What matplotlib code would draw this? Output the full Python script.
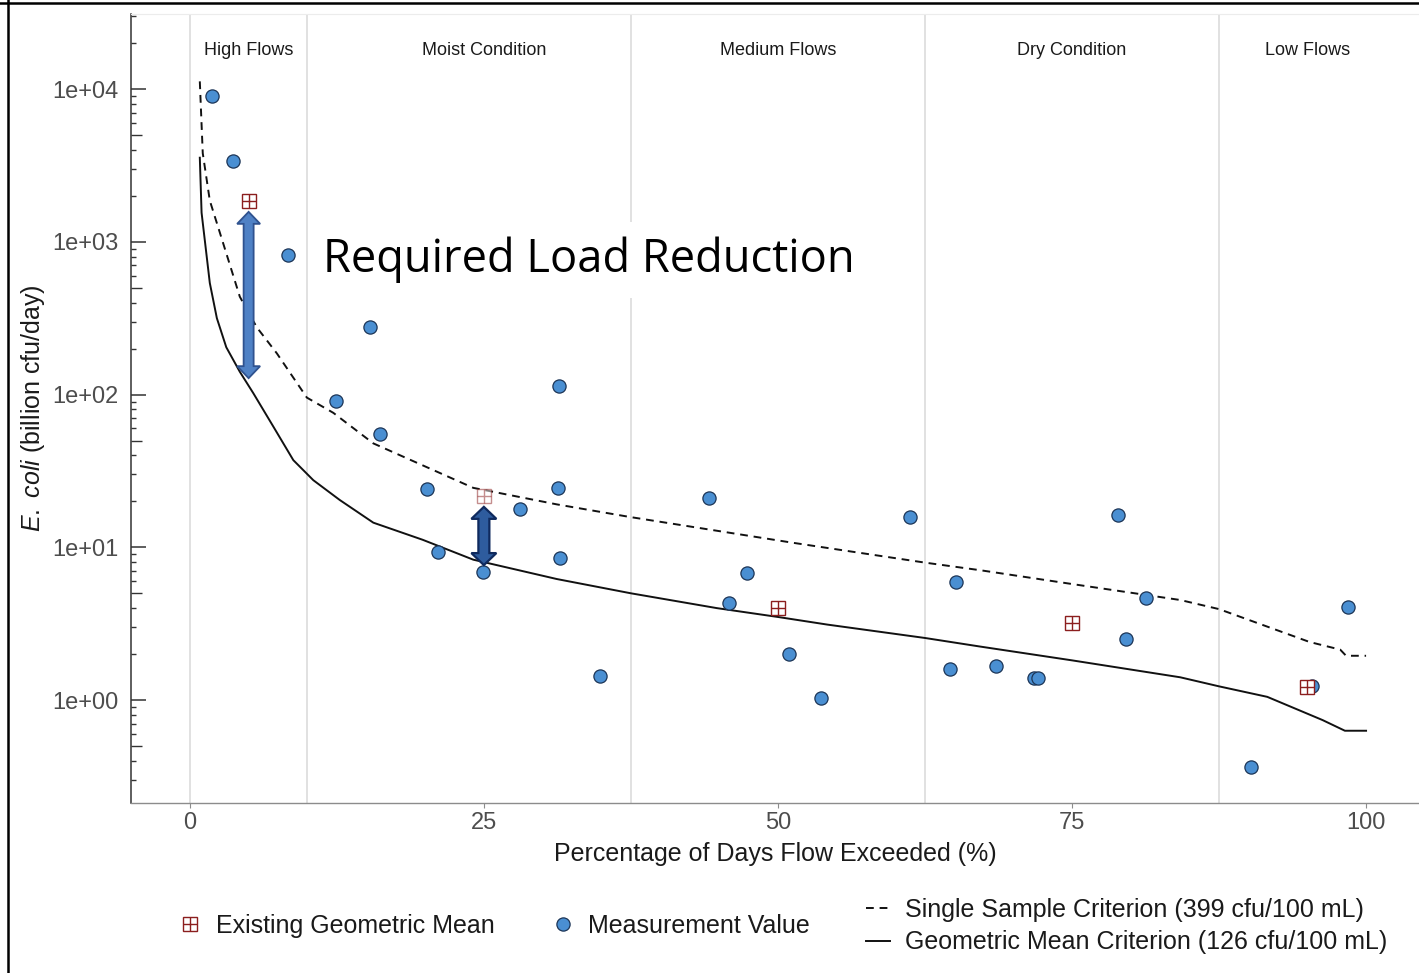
import matplotlib
matplotlib.use("Agg")
import matplotlib.pyplot as plt
import matplotlib.ticker as mticker
import matplotlib.transforms as mtransforms
from matplotlib.lines import Line2D
from matplotlib.patches import Polygon
from matplotlib.legend_handler import HandlerTuple
import numpy as np

plt.rcParams['font.family'] = ['Liberation Sans', 'DejaVu Sans']
plt.rcParams['mathtext.fontset'] = 'custom'
plt.rcParams['mathtext.it'] = 'Liberation Sans:italic'
plt.rcParams['mathtext.rm'] = 'Liberation Sans'

# geometric mean criterion curve (126 cfu/100 mL)
gm_pct = [0.85, 1.0, 1.7, 2.3, 3.1, 4.25, 5.4, 7.1, 8.8, 10.5, 12.75, 15.6, 19.8, 24.1,
          31.2, 37.5, 44.8, 50, 54.2, 62.5, 67.2, 75, 84.2, 87.5, 91.6, 96.3, 98.2, 100]
gm_load = [3550, 1550, 537, 316, 204, 141, 102, 61.7, 37.2, 27.5, 20.4, 14.5, 11.2, 8.3,
           6.2, 5.0, 4.0, 3.5, 3.12, 2.55, 2.24, 1.82, 1.41, 1.23, 1.05, 0.74, 0.63, 0.63]

# single sample criterion curve (399 cfu/100 mL)
ss_pct = [0.85, 1.1, 1.7, 2.55, 4.25, 5.7, 7.4, 9.95, 12.2, 15.6, 24.1, 31.2, 37.4,
          51.3, 62.5, 67.2, 75, 84.2, 87.5, 95.2, 97.8, 98.3, 100]
ss_load = [11220, 3800, 1860, 1150, 437, 275, 186, 95.5, 75.9, 47.9, 24.5, 19.1, 15.8,
           10.7, 7.94, 7.08, 5.75, 4.52, 3.94, 2.40, 2.14, 1.95, 1.95]

# measurement values
meas_pct = [1.87, 3.66, 8.33, 15.3, 12.4, 16.2, 20.2, 21.1, 24.9, 28.1, 31.4, 31.3,
            31.5, 34.9, 44.1, 45.8, 47.4, 50.9, 53.7, 61.2, 65.1, 64.6, 68.5, 71.8,
            72.1, 78.9, 81.3, 79.6, 90.2, 95.4, 98.5]
meas_load = [9000, 3400, 820, 275, 91, 55, 24, 9.3, 6.9, 17.8, 114, 24.5,
             8.5, 1.44, 21, 4.3, 6.8, 2.0, 1.03, 15.8, 5.9, 1.6, 1.67, 1.39,
             1.39, 16.3, 4.66, 2.5, 0.365, 1.24, 4.07]

# existing geometric mean per flow zone
egm_pct = [5, 25, 50, 75, 95]
egm_load = [1850, 21.6, 4.0, 3.2, 1.22]

zone_names = ["High Flows", "Moist Condition", "Medium Flows", "Dry Condition", "Low Flows"]
zone_centers = [5, 25, 50, 75, 95]
zone_bounds = [0, 10, 37.5, 62.5, 87.5]

# required reduction arrows (x, top, bottom)
arrows = [(5, 1570, 128), (25, 18.4, 7.65)]

W, H = 1419, 973
fig = plt.figure(figsize=(W / 100, H / 100), dpi=100)
ax = fig.add_axes([131 / W, 1 - 803 / H, (1419 - 131) / W, (803 - 14) / H])

ax.set_yscale('log')
ax.set_xlim(-5, 104.5)
ax.set_ylim(0.212, 30970)

for b in zone_bounds:
    ax.axvline(b, color='#d9d9d9', lw=1.1, zorder=0)

trans = mtransforms.blended_transform_factory(ax.transData, ax.transAxes)
for name, c in zip(zone_names, zone_centers):
    ax.text(c, 0.954, name, transform=trans, ha='center', va='center',
            fontsize=13, color='#1a1a1a')

ax.plot(ss_pct, ss_load, color='#111111', lw=1.4, ls=(0, (4, 3)), zorder=2)
ax.plot(gm_pct, gm_load, color='#111111', lw=1.4, zorder=2)

ax.plot(meas_pct, meas_load, 'o', ms=9.5, mfc='#4a8fd2', mec='#1c3557',
        mew=0.9, ls='none', zorder=3)

for x, y in zip(egm_pct, egm_load):
    a = 0.5 if x == 25 else 1.0
    ax.plot(x, y, 's', ms=9.5, mfc='white', mec='#8b1e1e', mew=1.0, alpha=a, zorder=4)
    ax.plot(x, y, '+', ms=9.5, mec='#8b1e1e', mew=1.0, alpha=a, zorder=4)

# axes styling
ax.spines['right'].set_visible(False)
ax.spines['top'].set_color('#ececec')
ax.spines['left'].set_color('#333333')
ax.spines['left'].set_linewidth(1.1)
ax.spines['bottom'].set_color('#8c8c8c')
ax.spines['bottom'].set_linewidth(1.0)

ax.set_xticks([0, 25, 50, 75, 100])
ax.tick_params(axis='x', direction='out', length=3.5, width=0.8, color='#8c8c8c',
               labelsize=17, labelcolor='#4d4d4d', pad=3)
ax.yaxis.set_major_locator(mticker.LogLocator(base=10, numticks=10))
ax.yaxis.set_minor_locator(mticker.LogLocator(base=10, subs=np.arange(2, 10), numticks=20))
ax.yaxis.set_minor_formatter(mticker.NullFormatter())
ax.yaxis.set_major_formatter(mticker.FuncFormatter(lambda v, p: format(v, '.0e')))
ax.tick_params(axis='y', which='major', direction='in', length=11, width=1.1,
               color='#333333', labelsize=17, labelcolor='#4d4d4d', pad=9)
ax.tick_params(axis='y', which='minor', direction='in', length=3.8, width=1.0,
               color='#333333')
fig.canvas.draw()
for t, loc in zip(ax.yaxis.get_minor_ticks(), ax.yaxis.get_minorticklocs()):
    m = loc / 10 ** np.floor(np.log10(loc) + 1e-9)
    if abs(m - 5) < 0.01:
        t.tick1line.set_markersize(7.9)

ax.set_xlabel('Percentage of Days Flow Exceeded (%)', fontsize=18, color='#1a1a1a',
              labelpad=6)
ax.set_ylabel(r'$\mathit{E.\ coli}$ (billion cfu/day)', fontsize=18, color='#1a1a1a',
              labelpad=4)


def double_arrow(x, y_top, y_bot, shaft, head_w, head_l, fc, ec, lw):
    px, pt = ax.transData.transform((x, y_top))
    _, pb = ax.transData.transform((x, y_bot))
    hs, hw = shaft / 2, head_w / 2
    verts = [(px, pt), (px + hw, pt - head_l), (px + hs, pt - head_l),
             (px + hs, pb + head_l), (px + hw, pb + head_l), (px, pb),
             (px - hw, pb + head_l), (px - hs, pb + head_l),
             (px - hs, pt - head_l), (px - hw, pt - head_l)]
    data_verts = ax.transData.inverted().transform(verts)
    ax.add_patch(Polygon(data_verts, closed=True, fc=fc, ec=ec, lw=lw, zorder=5))


double_arrow(*arrows[0], shaft=10, head_w=23, head_l=12, fc='#4f81c5', ec='#2f528f', lw=1.3)
double_arrow(*arrows[1], shaft=11, head_w=25, head_l=12, fc='#2e5c9e', ec='#0f2a5e', lw=1.6)

ax.text(11.3, 760, 'Required Load Reduction', fontsize=32.6, family=['Open Sans', 'DejaVu Sans'],
        ha='left', va='center', color='black', zorder=6,
        bbox=dict(boxstyle='square,pad=0.33', fc='white', ec='none'))

# legends
egm_h = (Line2D([], [], marker='s', ms=9.5, mfc='white', mec='#8b1e1e', mew=1.0, ls='none'),
         Line2D([], [], marker='+', ms=9.5, mec='#8b1e1e', mew=1.0, ls='none'))
meas_h = Line2D([], [], marker='o', ms=9.5, mfc='#4a8fd2', mec='#1c3557', mew=0.9, ls='none')
ss_h = Line2D([], [], color='#111111', lw=1.4, ls=(0, (4, 3)))
gm_h = Line2D([], [], color='#111111', lw=1.4)

leg_kw = dict(frameon=False, fontsize=18, borderpad=0, borderaxespad=0, loc='center left')
l1 = fig.legend([egm_h], ['Existing Geometric Mean'], handler_map={tuple: HandlerTuple(ndivide=1, pad=0)},
                bbox_to_anchor=(177 / W, 1 - 926 / H), handlelength=1.0, handletextpad=0.55, **leg_kw)
l2 = fig.legend([meas_h], ['Measurement Value'], bbox_to_anchor=(550 / W, 1 - 926 / H),
                handlelength=1.0, handletextpad=0.5, **leg_kw)
l3 = fig.legend([ss_h, gm_h], ['Single Sample Criterion (399 cfu/100 mL)',
                               'Geometric Mean Criterion (126 cfu/100 mL)'],
                bbox_to_anchor=(866 / W, 1 - 926 / H), handlelength=0.95, handletextpad=0.6,
                labelspacing=0.35, **leg_kw)
for lg in (l1, l2, l3):
    for t in lg.get_texts():
        t.set_color('#1a1a1a')

# outer frame
fig.add_artist(Line2D([8 / W, 8 / W], [0, 1], transform=fig.transFigure, color='black', lw=1.8))
fig.add_artist(Line2D([0, 1], [1 - 2.5 / H, 1 - 2.5 / H], transform=fig.transFigure,
                      color='black', lw=1.8))

fig.savefig('out.png', dpi=100)
